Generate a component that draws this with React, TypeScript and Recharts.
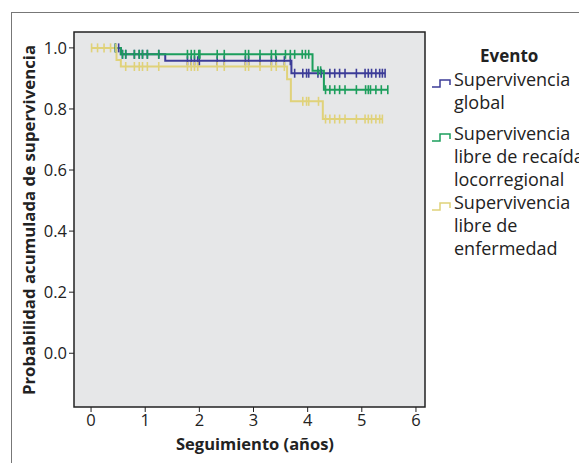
import React from "react";
import { LineChart, Line, XAxis, YAxis, ReferenceArea } from "recharts";

// step times (years) and survival after each step
const globalTimes = [0, 0.55, 1.37, 3.7];
const globalSurv = [1, 0.979, 0.958, 0.917];
const globalCens = [
  0.45, 0.51, 0.58, 0.64, 0.8, 0.89, 0.95, 1.04, 1.25, 1.78, 1.85, 1.91, 1.97, 2.0, 2.33, 2.46, 2.85, 2.91,
  3.12, 3.33, 3.42, 3.57, 3.68, 3.76, 3.91, 3.98, 4.02, 4.19, 4.25, 4.41, 4.5, 4.59, 4.69, 4.9, 5.06,
  5.12, 5.18, 5.26, 5.33, 5.38, 5.43,
];

const recaidaTimes = [0, 0.55, 4.09, 4.3];
const recaidaSurv = [1, 0.979, 0.925, 0.863];
const recaidaCens = [
  0.45, 0.58, 0.64, 0.8, 0.89, 0.95, 1.04, 1.25, 1.78, 1.85, 1.91, 1.99, 2.01, 2.33, 2.46, 2.85, 2.91,
  3.12, 3.33, 3.41, 3.59, 3.68, 3.76, 3.9, 3.96, 4.02, 4.19, 4.24, 4.33, 4.41, 4.5, 4.59, 4.69, 4.9,
  5.07, 5.12, 5.16, 5.26, 5.36, 5.48,
];

const enfTimes = [0, 0.47, 0.55, 3.62, 3.69, 4.28];
const enfSurv = [1, 0.96, 0.939, 0.897, 0.825, 0.767];
const enfCens = [
  0.01, 0.12, 0.24, 0.36, 0.46, 0.64, 0.8, 0.89, 0.95, 1.04, 1.25, 1.78, 1.85, 1.91, 1.97, 2.33, 2.46,
  2.85, 2.91, 3.12, 3.33, 3.42, 3.57, 3.91, 3.98, 4.02, 4.2, 4.33, 4.41, 4.5, 4.59, 4.69, 4.9, 5.06,
  5.12, 5.18, 5.26, 5.33, 5.38,
];

const xTicks = [0, 1, 2, 3, 4, 5, 6];
const yTicks = [0, 0.2, 0.4, 0.6, 0.8, 1.0];

const BLUE = "#3c3c98";
const GREEN = "#1c9e5c";
const YELLOW = "#e0d27a";
const FONT = "'Open Sans', sans-serif";

type Pt = { t: number; s: number; cens: boolean };

function build(times: number[], surv: number[], cens: number[]): Pt[] {
  const pts: Pt[] = times.map((t, i) => ({ t, s: surv[i], cens: false }));
  cens.forEach((c) => {
    let s = surv[0];
    times.forEach((t, i) => {
      if (t <= c) s = surv[i];
    });
    pts.push({ t: c, s, cens: true });
  });
  return pts.sort((a, b) => a.t - b.t);
}

const series = [
  { name: "global", color: BLUE, data: build(globalTimes, globalSurv, globalCens) },
  { name: "recaida", color: GREEN, data: build(recaidaTimes, recaidaSurv, recaidaCens) },
  { name: "enfermedad", color: YELLOW, data: build(enfTimes, enfSurv, enfCens) },
];

const X_DOMAIN = [-0.315, 6.167];
const Y_DOMAIN = [-0.176, 1.052];

function censorDot(color: string) {
  return (props: any) => {
    const { cx, cy, payload, index } = props;
    if (!payload || !payload.cens) return <g key={`d${index}`} />;
    return (
      <line key={`d${index}`} x1={cx} x2={cx} y1={cy - 4.5} y2={cy + 4.5} stroke={color} strokeWidth={1.6} />
    );
  };
}

function LegendIcon({ color }: { color: string }) {
  return (
    <svg width={22} height={12} style={{ position: "absolute", left: 0, top: 9 }}>
      <path d="M1 10 H9 V3 H19 V8" fill="none" stroke={color} strokeWidth={1.5} />
    </svg>
  );
}

const legendItems = [
  { color: BLUE, lines: ["Supervivencia", "global"], top: 68 },
  { color: GREEN, lines: ["Supervivencia", "libre de recaída", "locorregional"], top: 122 },
  { color: YELLOW, lines: ["Supervivencia", "libre de", "enfermedad"], top: 191 },
];

export default function App() {
  return (
    <div style={{ position: "absolute", left: 0, top: 0, width: 579, height: 463, overflow: "hidden", background: "#fff", fontFamily: FONT }}>
      <div
        style={{
          position: "absolute",
          left: 11,
          top: 12,
          width: 600,
          height: 500,
          borderLeft: "1.5px solid #777",
          borderTop: "1.5px solid #777",
        }}
      />
      <div style={{ position: "absolute", left: 0, top: 0 }}>
        <LineChart width={579} height={463} margin={{ top: 32, right: 154, left: 13, bottom: 25 }}>
          <XAxis
            type="number"
            dataKey="t"
            domain={X_DOMAIN}
            ticks={xTicks}
            allowDataOverflow
            axisLine={false}
            tickLine={{ stroke: "#222" }}
            tickSize={5}
            tick={{ fill: "#222", fontSize: 16.5, fontFamily: FONT }}
            height={31}
            interval={0}
          />
          <YAxis
            type="number"
            dataKey="s"
            domain={Y_DOMAIN}
            ticks={yTicks}
            allowDataOverflow
            axisLine={false}
            tickLine={{ stroke: "#222" }}
            tickSize={5}
            tickMargin={2}
            tickFormatter={(v: number) => v.toFixed(1)}
            tick={{ fill: "#222", fontSize: 16.5, fontFamily: FONT }}
            width={61}
            interval={0}
          />
          <ReferenceArea
            x1={X_DOMAIN[0]}
            x2={X_DOMAIN[1]}
            y1={Y_DOMAIN[0]}
            y2={Y_DOMAIN[1]}
            fill="#e6e7e8"
            fillOpacity={1}
            stroke="#222"
            strokeWidth={1.5}
            ifOverflow="visible"
          />
          {series.map((sr) => (
            <Line
              key={sr.name}
              data={sr.data}
              dataKey="s"
              type="stepAfter"
              stroke={sr.color}
              strokeWidth={2}
              dot={censorDot(sr.color)}
              activeDot={false}
              isAnimationActive={false}
            />
          ))}
        </LineChart>
      </div>
      <div
        style={{
          position: "absolute",
          left: 28,
          top: 220,
          transform: "translate(-50%, -50%) rotate(-90deg)",
          whiteSpace: "nowrap",
          fontWeight: 700,
          fontSize: 16.8,
          color: "#222",
        }}
      >
        Probabilidad acumulada de supervivencia
      </div>
      <div
        style={{
          position: "absolute",
          left: 255,
          top: 443,
          transform: "translate(-50%, -50%)",
          whiteSpace: "nowrap",
          fontWeight: 700,
          fontSize: 16.5,
          color: "#222",
        }}
      >
        Seguimiento (años)
      </div>
      <div style={{ position: "absolute", left: 480, top: 44, fontWeight: 700, fontSize: 17, color: "#222" }}>Evento</div>
      {legendItems.map((it) => (
        <div key={it.color} style={{ position: "absolute", left: 431, top: it.top }}>
          <LegendIcon color={it.color} />
          <div style={{ marginLeft: 23, fontSize: 18, lineHeight: "23px", color: "#222", whiteSpace: "nowrap" }}>
            {it.lines.map((l) => (
              <div key={l}>{l}</div>
            ))}
          </div>
        </div>
      ))}
    </div>
  );
}
